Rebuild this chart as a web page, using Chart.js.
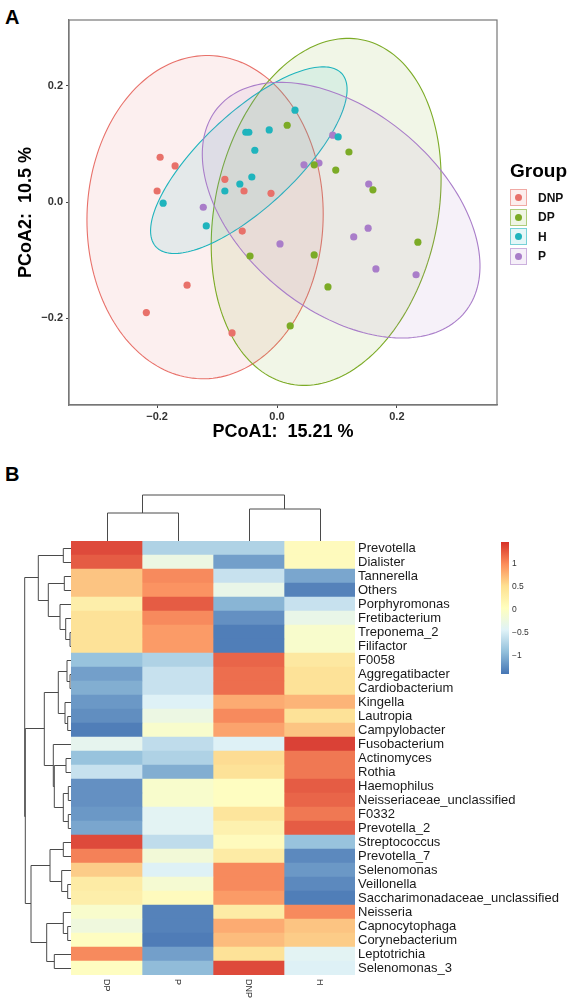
<!DOCTYPE html>
<html>
<head>
<meta charset="utf-8">
<script src="https://cdn.jsdelivr.net/npm/chart.js@4.4.0/dist/chart.umd.min.js"></script>
<style>
body { margin: 0; background: #fff; width: 569px; height: 999px; position: relative; overflow: hidden;
       font-family: "Liberation Sans", Arial, sans-serif; }
canvas { position: absolute; left: 0; }
#chartA { top: 0; }
#chartB { top: 480px; }
.tag { position: absolute; font-weight: bold; font-size: 20px; line-height: 1; color: #000; }
#legend { position: absolute; left: 510px; top: 160px; }
#legend .title { font-weight: bold; font-size: 19px; line-height: 22px; color: #000; margin-bottom: 6px; }
#legend .item { height: 19.5px; display: flex; align-items: center; }
#legend .key { width: 15px; height: 15px; border: 1px solid; position: relative; }
#legend .dot { position: absolute; left: 4px; top: 4px; width: 7px; height: 7px; border-radius: 50%; }
#legend .lab { margin-left: 11px; font-weight: bold; font-size: 12px; color: #111; }
</style>
</head>
<body>
<div class="tag" style="left:5px;top:7px">A</div>
<div class="tag" style="left:5px;top:464px">B</div>
<canvas id="chartA" width="569" height="470"></canvas>
<canvas id="chartB" width="569" height="519"></canvas>
<div id="legend"></div>
<script>
// ---------- A: PCoA ----------
const groups = ['DNP', 'DP', 'H', 'P'];
const groupColors = ['#E8716A', '#7CAB26', '#1FB4BD', '#A97DC9'];

const dnpX = [-0.195, -0.17, -0.2, -0.087, -0.055, -0.01, -0.058, -0.15, -0.218, -0.075];
const dnpY = [0.077, 0.062, 0.019, 0.039, 0.019, 0.015, -0.05, -0.143, -0.19, -0.225];
const dpX = [0.017, 0.062, 0.12, 0.098, 0.16, 0.235, -0.045, 0.062, 0.085, 0.022];
const dpY = [0.132, 0.064, 0.086, 0.055, 0.021, -0.069, -0.093, -0.091, -0.146, -0.213];
const hX = [-0.19, -0.118, -0.087, -0.062, -0.042, -0.037, -0.052, -0.047, -0.013, 0.03, 0.102];
const hY = [-0.002, -0.041, 0.019, 0.031, 0.043, 0.089, 0.12, 0.12, 0.124, 0.158, 0.112];
const pX = [-0.123, 0.005, 0.045, 0.07, 0.093, 0.153, 0.152, 0.128, 0.165, 0.232];
const pY = [-0.009, -0.072, 0.064, 0.067, 0.115, 0.031, -0.045, -0.06, -0.115, -0.125];

const xTicks = [-0.2, 0, 0.2];
const yTicks = [-0.2, 0, 0.2];

// confidence ellipses: centre, semi-axes, rotation (deg)
const ellCx = [-0.12, 0.082, -0.047, 0.107];
const ellCy = [-0.026, -0.017, 0.072, -0.014];
const ellA = [0.278, 0.302, 0.215, 0.271];
const ellB = [0.197, 0.186, 0.08, 0.169];
const ellAngle = [88.5, 78.7, 44.2, -41.6];

// ---------- B: heatmap ----------
const taxa = ['Prevotella', 'Dialister', 'Tannerella', 'Others', 'Porphyromonas', 'Fretibacterium',
  'Treponema_2', 'Filifactor', 'F0058', 'Aggregatibacter', 'Cardiobacterium', 'Kingella', 'Lautropia',
  'Campylobacter', 'Fusobacterium', 'Actinomyces', 'Rothia', 'Haemophilus', 'Neisseriaceae_unclassified',
  'F0332', 'Prevotella_2', 'Streptococcus', 'Prevotella_7', 'Selenomonas', 'Veillonella',
  'Saccharimonadaceae_unclassified', 'Neisseria', 'Capnocytophaga', 'Corynebacterium', 'Leptotrichia',
  'Selenomonas_3'];
const sampleCols = ['DP', 'P', 'DNP', 'H'];
const zDP = [1.4, 1.3, 0.7, 0.7, 0.3, 0.5, 0.5, 0.5, -0.9, -1.15, -1.05, -1.2, -1.27, -1.38, -0.35, -0.9,
  -0.6, -1.25, -1.25, -1.2, -1.1, 1.4, 1.1, 0.65, 0.35, 0.3, -0.05, -0.2, 0.05, 1.05, 0.05];
const zP = [-0.75, -0.25, 1.05, 1.0, 1.3, 1.05, 0.95, 0.95, -0.75, -0.6, -0.6, -0.45, -0.25, -0.05, -0.65,
  -0.75, -1.05, -0.05, -0.05, -0.4, -0.4, -0.65, -0.15, -0.45, -0.1, 0.1, -1.35, -1.35, -1.39, -1.15, -0.95];
const zDNP = [-0.75, -1.15, -0.6, -0.3, -1.0, -1.25, -1.38, -1.38, 1.25, 1.2, 1.2, 0.85, 1.05, 0.9, -0.45,
  0.55, 0.5, 0.05, 0.05, 0.45, 0.25, 0.1, 0.35, 1.05, 1.05, 0.95, 0.35, 0.85, 0.75, 0.5, 1.4];
const zH = [0.1, 0.1, -1.1, -1.35, -0.6, -0.3, -0.05, -0.05, 0.4, 0.5, 0.5, 0.8, 0.5, 0.7, 1.45, 1.15, 1.15,
  1.3, 1.25, 1.15, 1.3, -0.9, -1.3, -1.2, -1.3, -1.38, 1.05, 0.7, 0.65, -0.4, -0.45];
const zMin = -1.39, zMax = 1.48;
const palette = ['#4575B4', '#91BFDB', '#E0F3F8', '#FFFFBF', '#FEE090', '#FC8D59', '#D73027'];
const barTicks = [1, 0.5, 0, -0.5, -1];

// dendrograms: [height, left, right], leaves are indices
const colTree = [46, [28, 0, 1], [32, 2, 3]];
const rowTree = [46.3,
  [32.7, [7.7, 0, 1], [22.7, [6.7, 2, 3], [11, 4, [5.3, 5, [1, 6, 7]]]]],
  [45.7,
    [26.7, [12.7, [4, 8, [1, 9, 10]], [6, 11, [3.3, 12, 13]]],
           [17.7, 14, [16.7, [5, 15, 16], [7.7, [2.7, 17, 18], [2.7, 19, 20]]]]],
    [40, [21, [7.7, 21, 22], [9.3, 23, [3.3, 24, 25]]],
         [24.3, [7.7, 26, [3.3, 27, 28]], [16.7, 29, 30]]]]];

const FONT = "'Liberation Sans', Arial, sans-serif";

function hexRgb(h) {
  const n = parseInt(h.slice(1), 16);
  return [(n >> 16) & 255, (n >> 8) & 255, n & 255];
}
function withAlpha(h, a) {
  const [r, g, b] = hexRgb(h);
  return `rgba(${r},${g},${b},${a})`;
}
function heatColor(v) {
  let t = Math.max(0, Math.min(1, (v - zMin) / (zMax - zMin))) * (palette.length - 1);
  const i = Math.min(Math.floor(t), palette.length - 2);
  const f = t - i;
  const a = hexRgb(palette[i]), b = hexRgb(palette[i + 1]);
  // slightly muted, like the printed figure
  const c = a.map((x, k) => Math.round((x + (b[k] - x) * f) * 0.94 + 235 * 0.06));
  return `rgb(${c[0]},${c[1]},${c[2]})`;
}
function fmtTick(v) {
  return (v < 0 ? '\u2212' : '') + Math.abs(v).toFixed(1);
}

// legend
const legend = document.getElementById('legend');
legend.innerHTML = '<div class="title">Group</div>' + groups.map((g, i) =>
  `<div class="item"><div class="key" style="border-color:${withAlpha(groupColors[i], 0.55)};background:${withAlpha(groupColors[i], 0.12)}">` +
  `<div class="dot" style="background:${groupColors[i]}"></div></div><span class="lab">${g}</span></div>`).join('');

const ellipsePlugin = {
  id: 'ellipses',
  beforeDatasetsDraw(chart) {
    const { ctx, scales: { x, y } } = chart;
    ctx.save();
    groups.forEach((g, i) => {
      const th = ellAngle[i] * Math.PI / 180;
      ctx.beginPath();
      for (let k = 0; k <= 180; k++) {
        const t = k / 180 * 2 * Math.PI;
        const dx = ellA[i] * Math.cos(t) * Math.cos(th) - ellB[i] * Math.sin(t) * Math.sin(th);
        const dy = ellA[i] * Math.cos(t) * Math.sin(th) + ellB[i] * Math.sin(t) * Math.cos(th);
        const px = x.getPixelForValue(ellCx[i] + dx), py = y.getPixelForValue(ellCy[i] + dy);
        if (k) ctx.lineTo(px, py); else ctx.moveTo(px, py);
      }
      ctx.closePath();
      ctx.fillStyle = withAlpha(groupColors[i], 0.11);
      ctx.fill();
      ctx.strokeStyle = groupColors[i];
      ctx.lineWidth = 1.1;
      ctx.stroke();
    });
    ctx.restore();
  },
  afterDraw(chart) {
    const { ctx, chartArea: a } = chart;
    ctx.save();
    ctx.strokeStyle = '#777';
    ctx.lineWidth = 1.2;
    ctx.strokeRect(a.left, a.top, a.right - a.left, a.bottom - a.top);
    ctx.restore();
  }
};

const xsA = [dnpX, dpX, hX, pX], ysA = [dnpY, dpY, hY, pY];
new Chart(document.getElementById('chartA'), {
  type: 'scatter',
  data: {
    datasets: groups.map((g, i) => ({
      label: g,
      data: xsA[i].map((v, k) => ({ x: v, y: ysA[i][k] })),
      backgroundColor: groupColors[i],
      borderWidth: 0,
      pointRadius: 3.6
    }))
  },
  options: {
    responsive: false,
    animation: false,
    layout: { padding: { left: 0, top: 20, right: 72, bottom: 0 } },
    plugins: { legend: { display: false }, tooltip: { enabled: false } },
    scales: {
      x: {
        type: 'linear', min: -0.347, max: 0.367,
        afterBuildTicks: s => { s.ticks = xTicks.map(v => ({ value: v })); },
        afterFit: s => { s.height = 65; },
        ticks: { callback: v => fmtTick(v), font: { family: FONT, size: 11, weight: 'bold' }, color: '#333', padding: 2, maxRotation: 0 },
        grid: { display: true, drawOnChartArea: false, drawTicks: true, tickLength: 3, color: '#444' },
        border: { display: true, color: '#777', width: 1.2 },
        title: { display: true, text: 'PCoA1:  15.21 %', color: '#000', font: { family: FONT, size: 18, weight: 'bold' }, padding: { top: 0, bottom: 27 } }
      },
      y: {
        type: 'linear', min: -0.349, max: 0.313,
        afterBuildTicks: s => { s.ticks = yTicks.map(v => ({ value: v })); },
        afterFit: s => { s.width = 69; },
        ticks: { callback: v => fmtTick(v), font: { family: FONT, size: 11, weight: 'bold' }, color: '#333', padding: 3 },
        grid: { display: true, drawOnChartArea: false, drawTicks: true, tickLength: 3, color: '#444' },
        border: { display: true, color: '#777', width: 1.2 },
        title: { display: true, text: 'PCoA2:  10.5 %', color: '#000', font: { family: FONT, size: 18, weight: 'bold' }, padding: { top: 15, bottom: 0 } }
      }
    }
  },
  plugins: [ellipsePlugin]
});

// ---------- B ----------
function drawTree(ctx, node, leafPos, toXY) {
  if (typeof node === 'number') return { p: leafPos(node), h: 0 };
  const [h, l, r] = node;
  const a = drawTree(ctx, l, leafPos, toXY);
  const b = drawTree(ctx, r, leafPos, toXY);
  const seg = (p1, h1, p2, h2) => {
    const s = toXY(p1, h1), e = toXY(p2, h2);
    ctx.moveTo(s[0], s[1]); ctx.lineTo(e[0], e[1]);
  };
  seg(a.p, a.h, a.p, h);
  seg(b.p, b.h, b.p, h);
  seg(a.p, h, b.p, h);
  return { p: (a.p + b.p) / 2, h };
}

const heatPlugin = {
  id: 'heatExtras',
  afterDraw(chart) {
    const { ctx, chartArea: a, scales: { x, y } } = chart;
    ctx.save();
    ctx.strokeStyle = '#4a4a4a';
    ctx.lineWidth = 1;
    // column dendrogram
    ctx.beginPath();
    drawTree(ctx, colTree, j => x.getPixelForValue(j + 0.5), (p, h) => [Math.round(p) + 0.5, a.top - h]);
    ctx.stroke();
    // row dendrogram
    ctx.beginPath();
    drawTree(ctx, rowTree, i => y.getPixelForValue(i), (p, h) => [a.left - h, Math.round(p) + 0.5]);
    ctx.stroke();
    // column labels (rotated clockwise)
    ctx.fillStyle = '#333';
    ctx.font = `9px ${FONT}`;
    ctx.textAlign = 'left';
    ctx.textBaseline = 'middle';
    sampleCols.forEach((c, j) => {
      ctx.save();
      ctx.translate(x.getPixelForValue(j + 0.5), a.bottom + 4);
      ctx.rotate(Math.PI / 2);
      ctx.fillText(c, 0, 0);
      ctx.restore();
    });
    // colour key
    const cbL = 501, cbW = 8, cbT = 62, cbB = 194;
    const grad = ctx.createLinearGradient(0, cbB, 0, cbT);
    palette.forEach((c, k) => grad.addColorStop(k / (palette.length - 1), c));
    ctx.fillStyle = grad;
    ctx.fillRect(cbL, cbT, cbW, cbB - cbT);
    ctx.fillStyle = '#333';
    ctx.font = `8.5px ${FONT}`;
    barTicks.forEach(v => {
      const py = cbT + (zMax - v) / (zMax - zMin) * (cbB - cbT);
      ctx.fillText(String(v).replace('-', '\u2212'), cbL + cbW + 3, py);
    });
    ctx.restore();
  }
};

const zCols = [zDP, zP, zDNP, zH];
new Chart(document.getElementById('chartB'), {
  type: 'bar',
  data: {
    labels: taxa,
    datasets: sampleCols.map((c, j) => ({
      label: c,
      data: taxa.map(() => 1),
      backgroundColor: zCols[j].map(heatColor),
      borderWidth: 0,
      barPercentage: 1,
      categoryPercentage: 1
    }))
  },
  options: {
    indexAxis: 'y',
    responsive: false,
    animation: false,
    layout: { padding: { left: 71, top: 61, right: 0, bottom: 24 } },
    plugins: { legend: { display: false }, tooltip: { enabled: false } },
    scales: {
      x: { stacked: true, min: 0, max: 4, display: false },
      y: {
        stacked: true, position: 'right',
        afterFit: s => { s.width = 214; },
        grid: { display: false, drawTicks: false },
        border: { display: false },
        ticks: { autoSkip: false, padding: 3, color: '#1a1a1a', font: { family: FONT, size: 13 } }
      }
    }
  },
  plugins: [heatPlugin]
});
</script>
</body>
</html>
